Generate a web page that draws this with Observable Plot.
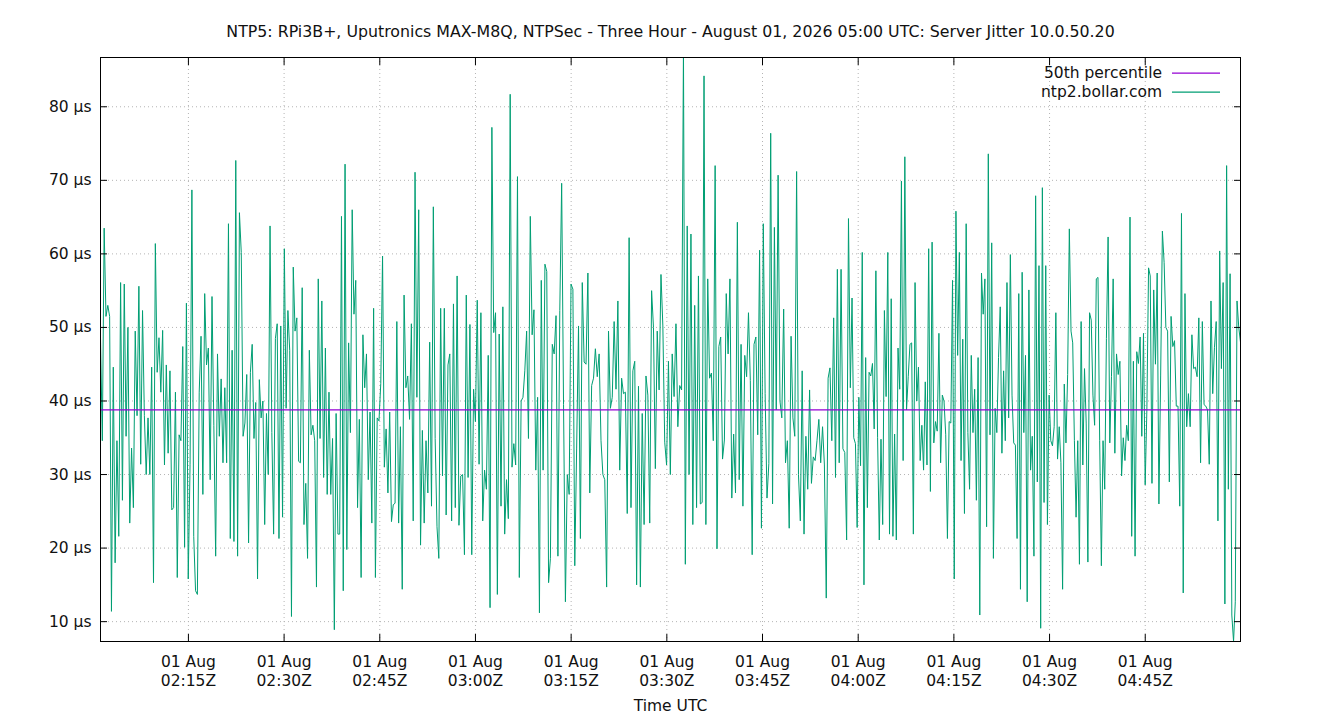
<!DOCTYPE html>
<html>
<head>
<meta charset="utf-8">
<script src="https://cdn.jsdelivr.net/npm/d3@7"></script>
<script src="https://cdn.jsdelivr.net/npm/@observablehq/plot@0.6"></script>
<style>
  html, body { margin: 0; padding: 0; background: white; }
  #chart svg { display: block; }
</style>
</head>
<body>
<div id="chart"></div>
<script>
// ---- Data ----
const titleText = "NTP5: RPi3B+, Uputronics MAX-M8Q, NTPSec - Three Hour - August 01, 2026 05:00 UTC: Server Jitter 10.0.50.20";
const xAxisLabel = "Time UTC";
const seriesNames = ["50th percentile", "ntp2.bollar.com"];
const medianValue = 38.8; // 50th percentile, µs

// Time span of each read-off block of samples (UTC)
const blockBounds = [
  "2026-08-01T02:01:13Z", "2026-08-01T02:24:43Z", "2026-08-01T02:48:14Z",
  "2026-08-01T03:11:45Z", "2026-08-01T03:35:15Z", "2026-08-01T03:58:46Z",
  "2026-08-01T04:22:16Z", "2026-08-01T04:45:47Z", "2026-08-01T04:59:56Z"
];

// Jitter samples, µs
const block1 = [48.7, 34.6, 63.5, 51.5, 53, 51.5, 11.4, 44.6, 18, 34.6, 21.6, 56.1, 26.5, 55.9, 35.2, 50, 23.4, 33.6, 25.5, 49.5, 38, 55.6, 31.4, 52.3, 38, 30, 37.7, 30, 44.6, 15.3, 61.4, 43.9, 48.6, 41.2, 49.6, 31.3, 44.9, 32.9, 44.1, 25.2, 25.5, 41.2, 16, 35.4, 34.6, 47.4, 20.1, 53.3, 15.8, 31.4, 68.7, 21.6, 14.2, 13.7, 41.2, 48.8, 27.3, 54.6, 44.9, 47.2, 29.3, 54.2, 36.7, 18.9, 46.4, 35.2, 43, 31.6, 41.8, 31.6, 64.1, 21.3, 46.9, 20.9, 72.7, 18.9, 65.6, 60.2, 35.2, 37, 43.6, 20.7];
const block2 = [43.9, 47.7, 34.9, 39.8, 15.8, 42.9, 37.7, 40, 23.2, 38.3, 30, 63.8, 35.7, 21.9, 48.5, 50.5, 21.3, 50.2, 24.2, 60.7, 39, 52.3, 46.9, 10.7, 58.2, 49.5, 51.3, 31.8, 31.6, 55.4, 23.2, 28.8, 18.6, 46.9, 35.4, 36.7, 34.6, 14.7, 56.6, 34.9, 53.6, 29.6, 47.2, 27.3, 41.2, 27.3, 34.9, 8.9, 38.3, 21.9, 21.9, 65.1, 14.2, 72.2, 19.8, 47.9, 35.7, 66, 51.8, 56.4, 25.5, 37.5, 16, 49, 41.8, 46.4, 29.3, 38.5, 23.4, 52.6, 16, 37.7, 37.3, 42.4, 59.7, 31, 36.2, 27.5, 38.5, 23.6, 25.9, 26.1, 50.8, 23.4];
const block3 = [36.5, 14.4, 54.4, 41.8, 43.4, 37.5, 50.5, 23.7, 71.1, 40.5, 66, 20.4, 36, 23.4, 34.6, 27.5, 48, 25.7, 66.4, 34.9, 22.9, 18.6, 52.6, 29.8, 52.6, 24.5, 44.9, 46.4, 23.7, 53.2, 25.5, 57, 23.1, 29.8, 30, 19.1, 54.4, 29.6, 50.4, 19.1, 41.6, 37.2, 53.7, 31.4, 52, 23.7, 30.6, 28, 46.2, 11.9, 77.2, 49.3, 52, 13.7, 49.1, 25.7, 52.8, 21.9, 29.3, 24, 81.7, 31, 34.2, 31.3, 70.5, 16, 40, 40.5, 44.1, 49.5, 34.9, 65.1, 49, 52.4, 30.6, 40.5, 11.2, 56.4, 30.6, 58.6, 57.6, 15.3];
const block4 = [18.6, 47.7, 46.4, 51.6, 18.9, 52.3, 69.6, 39.5, 12.7, 30, 27.3, 55.9, 55.2, 17.6, 33.6, 50.2, 21.3, 56.1, 45.3, 45, 57.4, 27.5, 42.1, 43.1, 47.1, 43.3, 46.4, 34.6, 30, 29.3, 14.7, 49.5, 39, 40.5, 50.8, 41.6, 53.6, 30.6, 43.1, 41, 41.2, 24.7, 62.2, 25.5, 44.1, 45.4, 15, 42, 14.7, 38.3, 23.2, 43.4, 40.8, 23.4, 55, 50, 30.8, 49.5, 41.5, 57.2, 50.2, 34.4, 31.3, 45.4, 30, 46.4, 40.6, 50.5, 36.5, 42.1, 41.5, 88, 17.8, 63.8, 30, 62.7, 23.2, 53, 25.5, 57];
const block5 = [26, 26.2, 84.2, 23.2, 56.6, 43.1, 43.8, 34.6, 72, 19.9, 47.4, 48.7, 32.1, 34.7, 54.6, 46.4, 56.6, 26.8, 35.5, 27.5, 64.3, 29.3, 47.7, 25.7, 46.2, 43.3, 52, 42.8, 19.1, 47.7, 48.7, 35.4, 60.5, 22.7, 64.1, 41, 26.8, 31.5, 76.4, 26, 63.6, 38.8, 70.7, 40, 37.7, 52.5, 31.6, 34.6, 22.7, 48.8, 37.7, 35.2, 71.2, 30, 23.7, 44.1, 21.9, 35.2, 28, 41.5, 28.8, 32.4, 31.9, 34.6, 37.5, 31.6, 36.5, 31.3, 13.2, 43.1, 44.5, 34.6, 51.3, 29.6, 57.9, 31.6, 57.9, 33.5, 33, 21.1, 64.8];
const block6 = [41.8, 54, 35, 34.2, 22.8, 40.5, 31.2, 60.2, 15, 45.9, 25.5, 43.9, 43.4, 45.1, 36.2, 57.7, 35, 21.1, 34.8, 23.2, 52.3, 40.6, 60.2, 21.9, 53.9, 21.6, 35.5, 21.1, 47.2, 41.6, 69.9, 31.9, 73.2, 38.8, 43.3, 47.7, 47.9, 21.9, 56.1, 40, 44.6, 31.9, 36.7, 30.6, 42.6, 31.3, 60.7, 27.7, 61.6, 34.3, 37.2, 35.9, 49.2, 31.6, 40.8, 40, 35.4, 21.3, 37.2, 37, 56.4, 15.8, 65.8, 46.2, 60.2, 31.9, 48.4, 24.7, 64.1, 35.7, 28, 46.2, 35.7, 41.6, 26.5, 45.9, 10.9, 57.4, 51.8, 56.6, 22.9, 73.6, 35.4, 61.5, 18.6, 39, 35.7, 45.9];
const block7 = [52.8, 32.9, 44.1, 34.6, 56.1, 37.7, 59.9, 40.8, 34.3, 34, 21.3, 54.6, 14.4, 57.5, 35.7, 46.2, 12.7, 55.1, 30.6, 35.2, 18.9, 67.9, 29, 58.4, 9.1, 69, 26.2, 58.4, 23.2, 40.8, 34.6, 33.9, 36.5, 52, 32.1, 36.5, 31.6, 14.4, 42.3, 34.3, 43.6, 63.4, 49.5, 47.9, 34.6, 24.2, 34.6, 17.8, 50.8, 31.3, 44.4, 37, 18.1, 52, 51, 40.8, 36.7, 56.6, 56.8, 34.6, 17.6, 34.6, 28, 48.5, 62.3, 34.3, 43.3, 56.6, 32.9, 46.4, 43.6, 45.4, 29.8, 35, 31.9, 36.7, 34.6, 65, 21.6, 45.4, 18.9, 46.7, 45.1, 48.7, 35.2, 49.2, 28.6, 38.8, 58.1];
const block8 = [57, 28.8, 55.1, 45, 57.4, 26, 43.4, 63.1, 58.8, 50, 49.5, 29, 51.5, 47.4, 48.2, 39.3, 39.3, 25.7, 65.5, 13.9, 54.6, 36.5, 41, 36.5, 49, 44.4, 44.6, 43.3, 51.3, 31.6, 50.8, 39.5, 39.3, 38.8, 31.4, 53.6, 41, 47.3, 50.8, 23.7, 60.4, 44.4, 56.1, 12.4, 72, 28, 57.3, 10.9, 7.3, 12.7, 53.6, 50, 48];
const blocks = [block1, block2, block3, block4, block5, block6, block7, block8];

// Axis ticks
const yTicks = [10, 20, 30, 40, 50, 60, 70, 80];
const xTickTimes = ["02:15", "02:30", "02:45", "03:00", "03:15", "03:30", "03:45", "04:00", "04:15", "04:30", "04:45"];
const xTickDay = "01 Aug";
const yDomain = [7.3, 86.7];

// ---- Build table: samples are spread evenly through each block's span ----
const jitter = [];
blocks.forEach((vals, i) => {
  const a = new Date(blockBounds[i]).getTime();
  const b = new Date(blockBounds[i + 1]).getTime();
  const last = i === blocks.length - 1;
  const step = (b - a) / (last ? vals.length - 1 : vals.length);
  vals.forEach((v, j) => jitter.push({time: new Date(a + j * step), value: v}));
});
const xTicks = xTickTimes.map(t => new Date(`2026-08-01T${t}:00Z`));
const xDomain = [new Date(blockBounds[0]), new Date(blockBounds[blockBounds.length - 1])];

const green = "#009e73", purple = "#9400d3";
const gridStyle = {stroke: "#b4b4b4", strokeOpacity: 1, strokeDasharray: "1,3", strokeWidth: 1};
const fmtX = d => `${xTickDay}\n${d3.utcFormat("%H:%M")(d)}Z`;

const chart = Plot.plot({
  width: 1340,
  height: 720,
  marginLeft: 100,
  marginRight: 100,
  marginTop: 57,
  marginBottom: 79,
  style: {fontFamily: "DejaVu Sans", fontSize: "15.5px", background: "white", color: "black"},
  x: {type: "utc", domain: xDomain},
  y: {domain: yDomain},
  marks: [
    Plot.gridX(xTicks, gridStyle),
    Plot.gridY(yTicks, gridStyle),
    Plot.line(jitter, {x: "time", y: "value", stroke: green, strokeWidth: 1, clip: true}),
    Plot.ruleY([medianValue], {stroke: purple, strokeWidth: 1.3}),
    Plot.frame({stroke: "black", strokeWidth: 1}),
    // inward tick marks, all four sides (gnuplot style)
    Plot.axisX(xTicks, {anchor: "bottom", tickSize: 7, dy: -7, tickFormat: () => "", label: null, stroke: "black"}),
    Plot.axisX(xTicks, {anchor: "top", tickSize: 7, dy: 7, tickFormat: () => "", label: null, stroke: "black"}),
    Plot.axisY(yTicks, {anchor: "left", tickSize: 7, dx: 7, tickFormat: () => "", label: null, stroke: "black"}),
    Plot.axisY(yTicks, {anchor: "right", tickSize: 7, dx: -7, tickFormat: () => "", label: null, stroke: "black"}),
    // tick labels
    Plot.axisX(xTicks, {anchor: "bottom", tickSize: 0, tickPadding: 13, tickFormat: fmtX, label: null, lineHeight: 1.17, fill: "#111"}),
    Plot.axisY(yTicks, {anchor: "left", tickSize: 0, tickPadding: 9, tickFormat: d => `${d} µs`, label: null, fill: "#111"}),
    Plot.text([xAxisLabel], {frameAnchor: "bottom", dy: 69, fill: "#111"}),
    Plot.text([titleText], {frameAnchor: "top", dy: -32, fontSize: 15.8, fill: "#111"})
  ]
});

document.getElementById("chart").append(chart);

// ---- Legend (top-right, inside the frame, gnuplot style) ----
const svg = d3.select(chart);
const legend = svg.append("g").attr("font-family", "DejaVu Sans").attr("font-size", "15.5px");
seriesNames.forEach((name, i) => {
  const y = 73 + i * 19;
  legend.append("text").attr("x", 1162).attr("y", y).attr("dy", "0.35em")
    .attr("text-anchor", "end").attr("fill", "#111").text(name);
  legend.append("line").attr("x1", 1172).attr("x2", 1220).attr("y1", y + 0.2).attr("y2", y + 0.2)
    .attr("stroke", i === 0 ? purple : green).attr("stroke-width", 1.3);
});
</script>
</body>
</html>
